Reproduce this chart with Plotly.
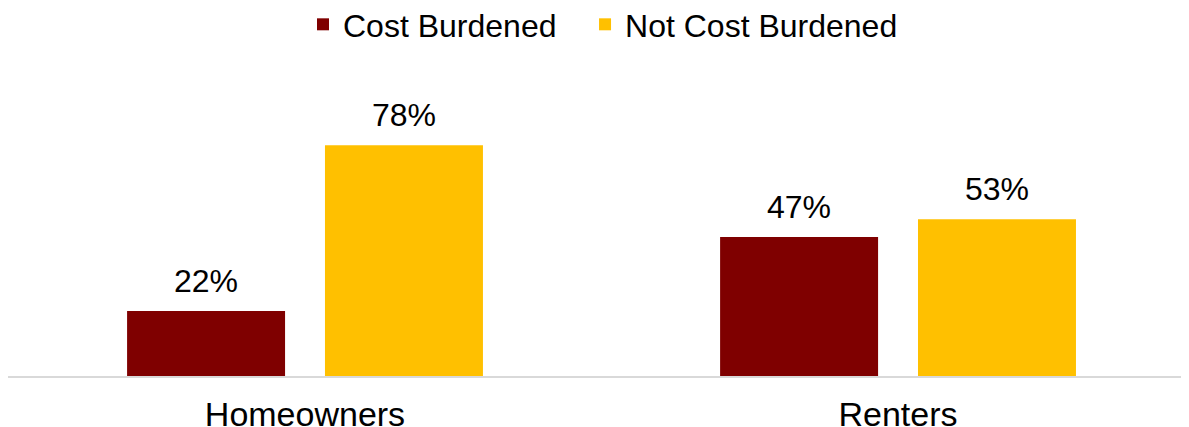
import plotly.graph_objects as go

categories = ["Homeowners", "Renters"]
cost_burdened = [22, 47]
not_cost_burdened = [78, 53]
series_names = ["Cost Burdened", "Not Cost Burdened"]
colors = ["#7F0000", "#FFC000"]

FONT = "Liberation Sans, Arial, Helvetica, sans-serif"

fig = go.Figure()
fig.add_trace(go.Bar(
    x=categories, y=cost_burdened, name=series_names[0],
    marker=dict(color=colors[0], line=dict(width=0)),
    width=0.2664, offset=-0.300, legend="legend",
))
fig.add_trace(go.Bar(
    x=categories, y=not_cost_burdened, name=series_names[1],
    marker=dict(color=colors[1], line=dict(width=0)),
    width=0.2664, offset=0.0337, legend="legend2",
))

# value labels above bars
for vals, off in ((cost_burdened, -0.1668), (not_cost_burdened, 0.1668)):
    for i, v in enumerate(vals):
        fig.add_annotation(
            x=i + off, y=v, xref="x", yref="y",
            text=f"{v}%", showarrow=False,
            yanchor="bottom", yshift=10,
            font=dict(family=FONT, size=32, color="#000000"),
        )

legend_common = dict(
    orientation="h", yanchor="middle", y=1.1123, xanchor="left",
    font=dict(family=FONT, size=32, color="#000000"),
    itemwidth=30, bgcolor="rgba(0,0,0,0)",
)

fig.update_layout(
    width=1181, height=419,
    margin=dict(l=0, r=0, t=52, b=51, pad=0, autoexpand=False),
    paper_bgcolor="white", plot_bgcolor="white",
    barmode="group",
    showlegend=True,
    legend=dict(x=0.2498, **legend_common),
    legend2=dict(x=0.4886, **legend_common),
    font=dict(family=FONT, color="#000000"),
)
fig.update_xaxes(
    type="category", range=[-0.5008, 1.4907], automargin=False,
    showline=True, linecolor="#D9D9D9", linewidth=2,
    ticks="outside", ticklen=7, tickcolor="rgba(0,0,0,0)",
    tickfont=dict(family=FONT, size=34, color="#000000"),
    showgrid=False, zeroline=False,
)
fig.update_yaxes(
    range=[0, 106.8], visible=False, showgrid=False, zeroline=False, automargin=False,
)

fig.write_html("out.html")
